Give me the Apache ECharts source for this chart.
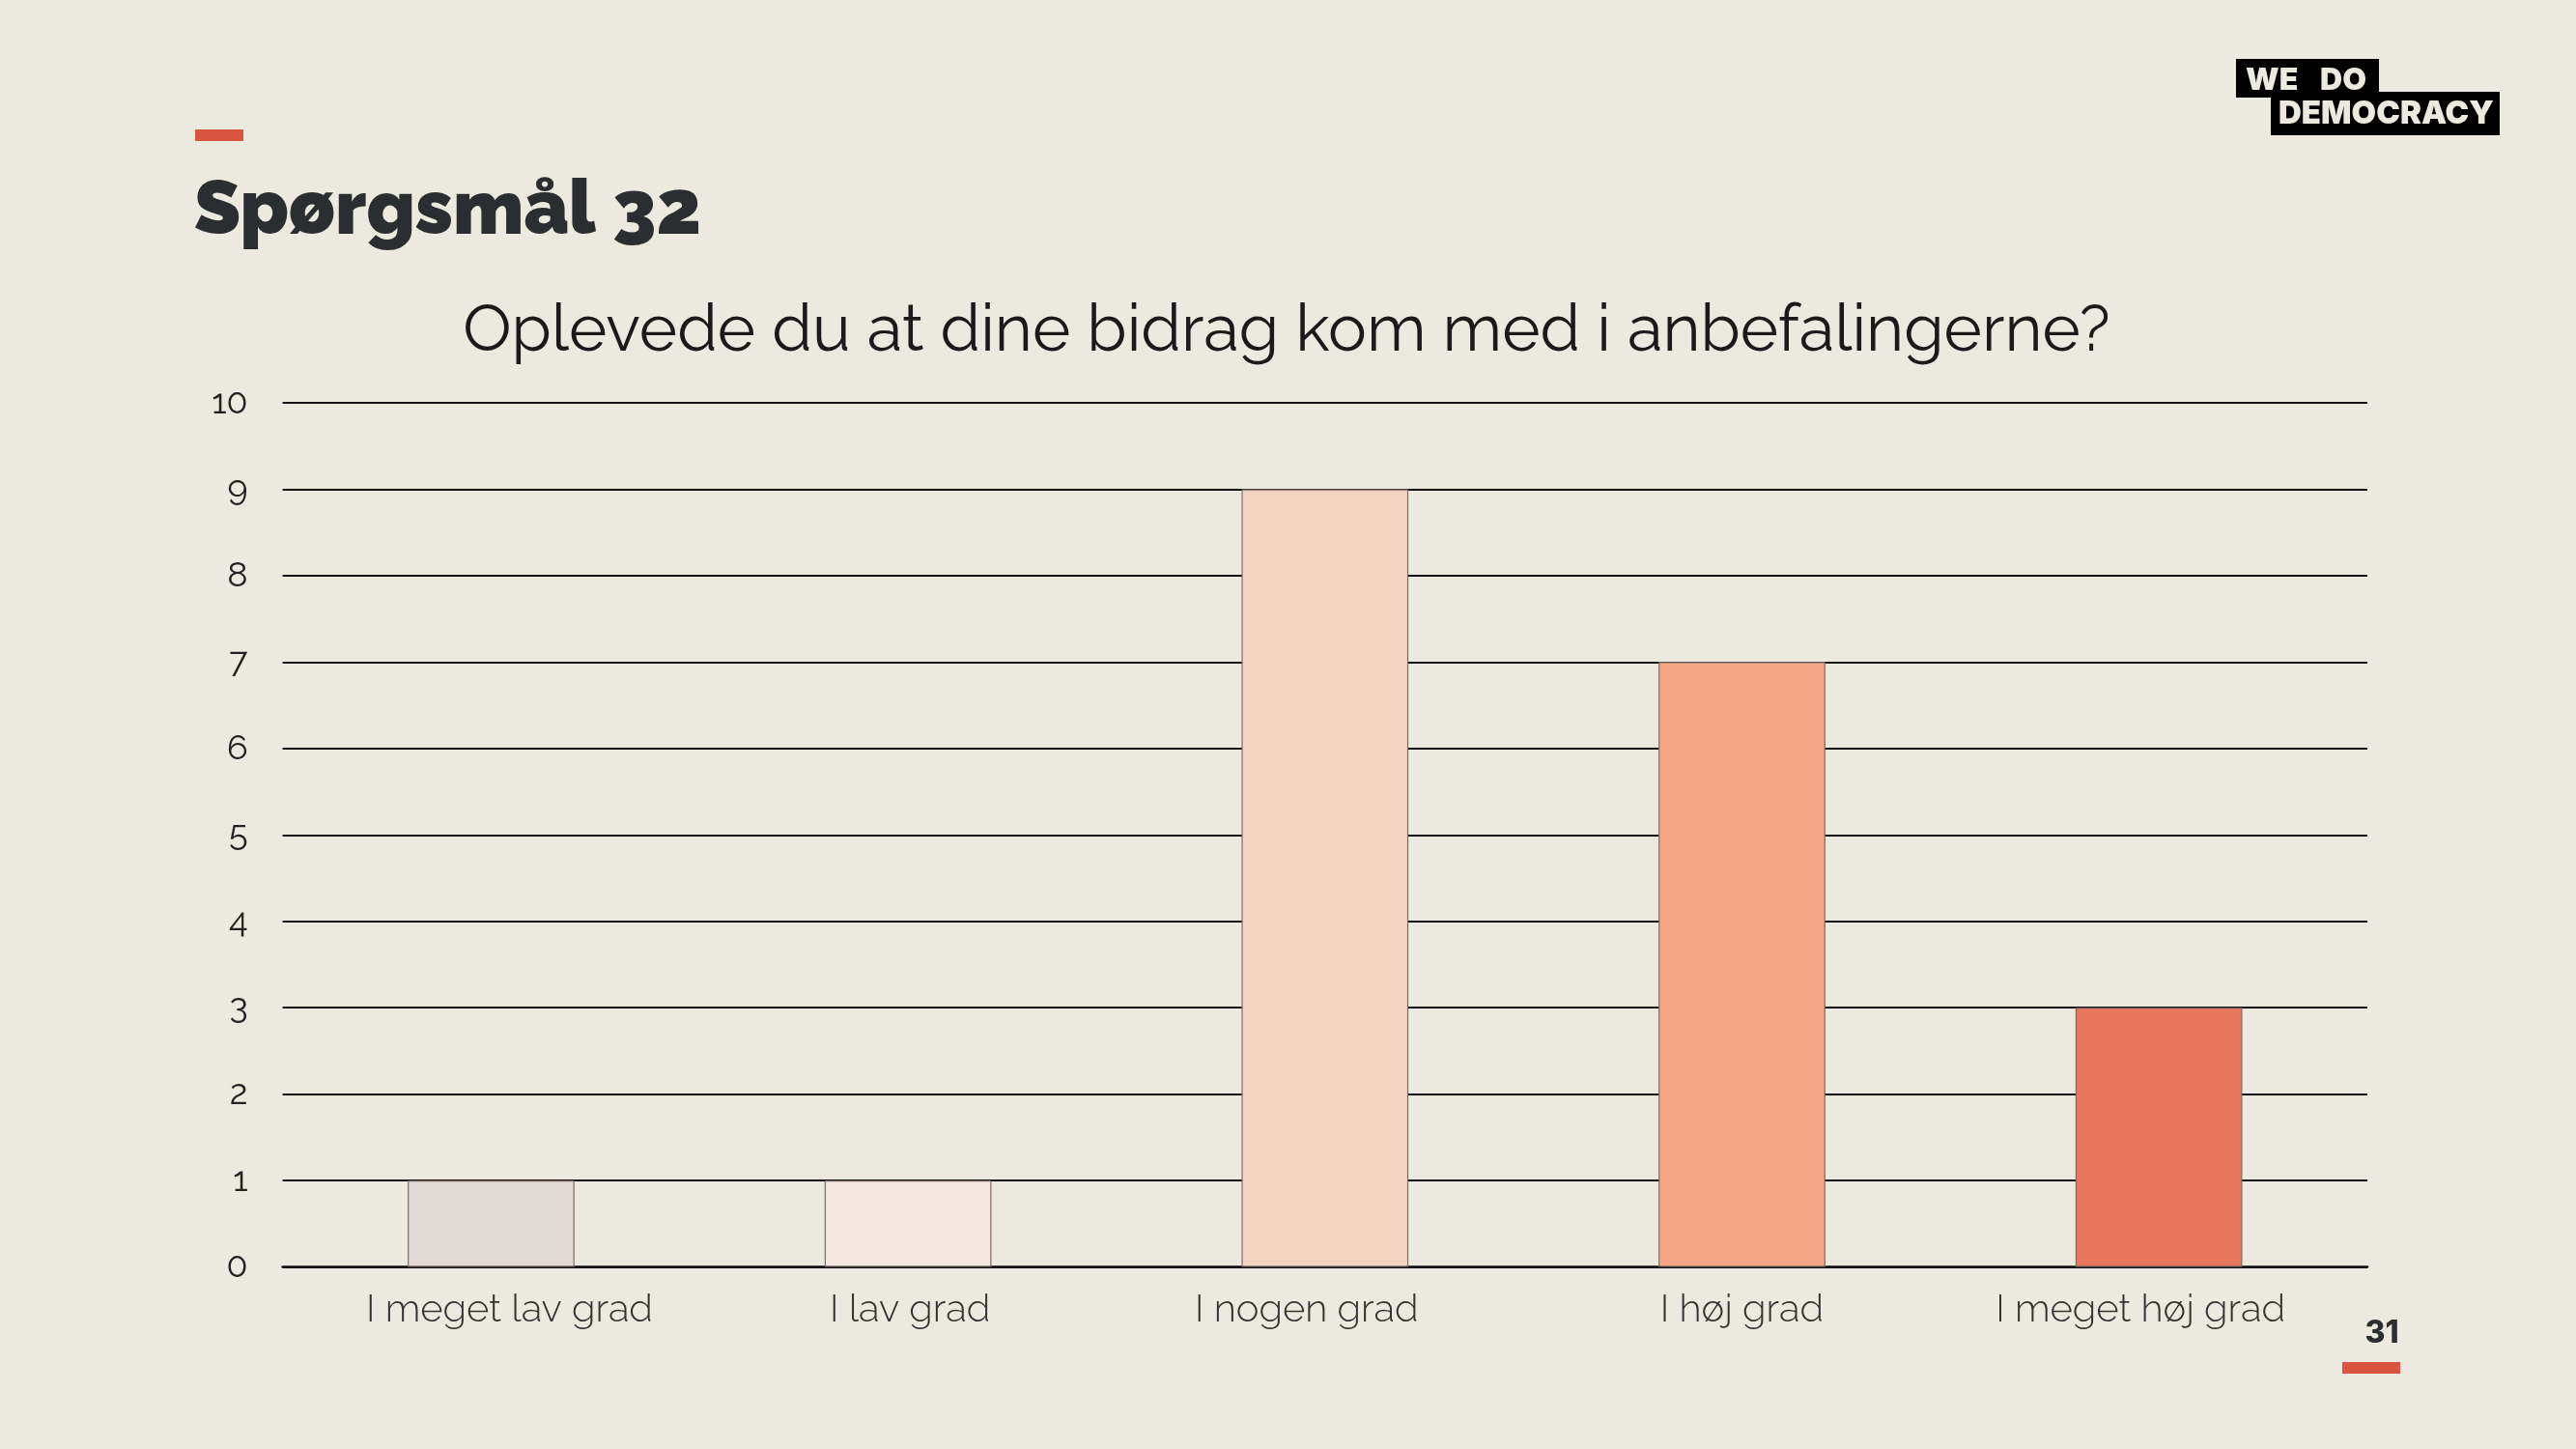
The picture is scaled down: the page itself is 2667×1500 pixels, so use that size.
<!DOCTYPE html>
<html>
<head>
<meta charset="utf-8">
<script src="https://cdn.jsdelivr.net/npm/echarts@6/dist/echarts.min.js"></script>
<style>
html,body{margin:0;padding:0;background:#ECEADF;}
#c{width:2667px;height:1500px;}
</style>
</head>
<body>
<div id="c"></div>
<script>
const categories = ["I meget lav grad", "I lav grad", "I nogen grad", "I høj grad", "I meget høj grad"];
const values = [1, 1, 9, 7, 3];
const barColors = ["#E2DAD5", "#F6E7DF", "#F5D3C2", "#F6A886", "#E8765C"];
const yTicks = [0, 1, 2, 3, 4, 5, 6, 7, 8, 9, 10];
const heading = "Spørgsmål 32";
const question = "Oplevede du at dine bidrag kom med i anbefalingerne?";
const pageNumber = "31";

// horizontal nudge of each category label (as in the original slide rendering)
const labelNudge = [19, 2, -19, 0, -19];

const chart = echarts.init(document.getElementById('c'), null, {renderer: 'canvas'});
const labelFont = "Raleway, Lato, 'Open Sans', sans-serif";
chart.setOption({
  backgroundColor: '#ECEADF',
  animation: false,
  grid: {left: 292.6, right: 216, top: 417, bottom: 188.5, containLabel: false},
  xAxis: {
    type: 'category',
    data: categories.map((c, i) => ({
      value: c,
      textStyle: {padding: labelNudge[i] >= 0 ? [0, 0, 0, 2 * labelNudge[i]] : [0, -2 * labelNudge[i], 0, 0]}
    })),
    axisLine: {show: true, lineStyle: {color: '#111', width: 2.5}},
    axisTick: {show: false},
    axisLabel: {color: '#333', fontSize: 40, fontFamily: labelFont, fontWeight: 300, margin: 24}
  },
  yAxis: {
    type: 'value',
    min: yTicks[0],
    max: yTicks[yTicks.length - 1],
    interval: 1,
    axisLine: {show: false},
    axisTick: {show: false},
    splitLine: {lineStyle: {color: '#111', width: 2}},
    axisLabel: {color: '#222', fontSize: 36, fontFamily: labelFont, fontWeight: 400, margin: 36}
  },
  series: [{
    type: 'bar',
    data: values.map((v, i) => ({value: v, itemStyle: {color: barColors[i]}})),
    barWidth: '40%',
    itemStyle: {borderColor: '#7a6e66', borderWidth: 1.2},
    z: 3
  }],
  graphic: [
    {type: 'rect', shape: {x: 202, y: 134, width: 50, height: 12}, style: {fill: '#D95540'}},
    {type: 'text', x: 201, y: 219, style: {text: heading, font: "900 78px Raleway, Lato, sans-serif", fill: '#2B2E30', textVerticalAlign: 'middle'}},
    {type: 'text', x: 1332, y: 343, style: {text: question, font: "400 67px Raleway, Lato, 'Open Sans', sans-serif", fill: '#1a1a1a', textAlign: 'center', textVerticalAlign: 'middle'}},
    {type: 'rect', shape: {x: 2315, y: 61, width: 148, height: 40}, style: {fill: '#000'}},
    {type: 'rect', shape: {x: 2351, y: 95, width: 237, height: 45}, style: {fill: '#000'}},
    {type: 'text', x: 2325, y: 83, style: {text: 'WE', font: "900 32px Inter, Lato, sans-serif", fill: '#ECEADF', textVerticalAlign: 'middle'}},
    {type: 'text', x: 2402, y: 83, style: {text: 'DO', font: "900 32px Inter, Lato, sans-serif", fill: '#ECEADF', textVerticalAlign: 'middle'}},
    {type: 'text', x: 2359, y: 118, style: {text: 'DEMOCRACY', font: "900 33px Inter, Lato, sans-serif", fill: '#ECEADF', textVerticalAlign: 'middle'}},
    {type: 'text', x: 2466, y: 1380, style: {text: pageNumber, font: "800 32px Inter, Lato, sans-serif", fill: '#2B2E30', textAlign: 'center', textVerticalAlign: 'middle'}},
    {type: 'rect', shape: {x: 2425, y: 1410, width: 60, height: 12}, style: {fill: '#D95540'}}
  ]
});
</script>
</body>
</html>
